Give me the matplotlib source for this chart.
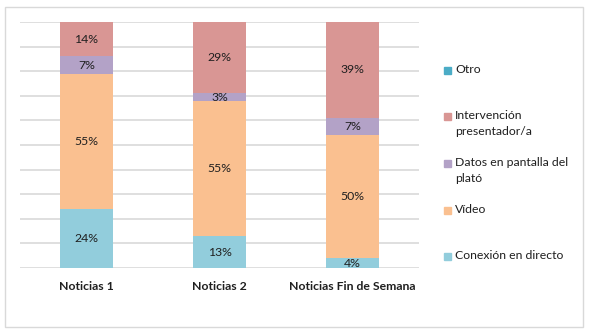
import matplotlib
matplotlib.use("Agg")
import matplotlib.pyplot as plt
from matplotlib.patches import Rectangle
from matplotlib.textpath import TextPath
from matplotlib.font_manager import FontProperties
import numpy as np

categories = ["Noticias 1", "Noticias 2", "Noticias Fin de Semana"]
series_names = ["Conexión en directo", "Vídeo", "Datos en pantalla del plató",
                "Intervención presentador/a", "Otro"]
conexion = [24, 13, 4]
video = [55, 55, 50]
datos = [7, 3, 7]
intervencion = [14, 29, 39]
otro = [0, 0, 0]
legend_labels = ["Otro", "Intervención\npresentador/a", "Datos en pantalla del\nplató",
                 "Vídeo", "Conexión en directo"]

colors = ["#92CDDC", "#FAC090", "#B3A2C7", "#D99694", "#4BACC6"]
series = [conexion, video, datos, intervencion, otro]

FONTS = ["Lato", "DejaVu Sans"]
plt.rcParams['font.family'] = FONTS
W, H = 589, 333
DPI = 100


def fit_size(text, target_px, weight="normal"):
    fp = FontProperties(family=FONTS, weight=weight, size=10)
    w = TextPath((0, 0), text, prop=fp).get_extents().width
    w_px = w * DPI / 72.0
    return 10 * target_px / w_px


leg_fs = fit_size("Conexión en directo", 108)
cat_fs = fit_size("Noticias Fin de Semana", 126, "bold")
lab_fs = leg_fs

fig = plt.figure(figsize=(W / DPI, H / DPI), dpi=DPI)
ax = fig.add_axes([20 / W, 1 - 268 / H, (419 - 20) / W, (268 - 22) / H])

x = np.arange(len(categories))
bottom = np.zeros(len(categories))
for vals, col in zip(series, colors):
    vals = np.array(vals, dtype=float)
    ax.bar(x, vals, 0.4, bottom=bottom, color=col, zorder=3, linewidth=0)
    for xi, v, b in zip(x, vals, bottom):
        if v > 0:
            ax.text(xi, b + v / 2, f"{int(v)}%", ha="center", va="center",
                    fontsize=lab_fs, color="#1f1f1f", zorder=4)
    bottom += vals

ax.set_xlim(-0.5, 2.5)
ax.set_ylim(0, 100)
ax.set_yticks(np.arange(0, 101, 10))
ax.yaxis.grid(True, color="#D9D9D9", linewidth=1.2, zorder=0)
ax.set_yticklabels([])
ax.tick_params(axis="both", length=0)
for s in ax.spines.values():
    s.set_visible(False)
ax.set_xticks(x)
ax.set_xticklabels(categories, fontweight="bold", fontsize=cat_fs, color="#1f1f1f")
ax.tick_params(axis="x", pad=9)

# legend (manual layout to mimic slots)
legend_colors = colors[::-1]
ys = [70, 116, 163, 210, 256]
for lab, col, y in zip(legend_labels, legend_colors, ys):
    fig.patches.append(Rectangle((444 / W, 1 - (y + 4) / H), 7 / W, 7 / H,
                                 transform=fig.transFigure, color=col))
    fig.text(455 / W, 1 - (y - 6) / H, lab, ha="left", va="top", fontsize=leg_fs,
             color="#1f1f1f", linespacing=1.55)

# outer border
fig.patches.append(Rectangle((5 / W, 1 - 327 / H), 578 / W, 320 / H,
                             transform=fig.transFigure, fill=False,
                             edgecolor="#D9D9D9", linewidth=1))

fig.savefig("out.png", dpi=DPI)
